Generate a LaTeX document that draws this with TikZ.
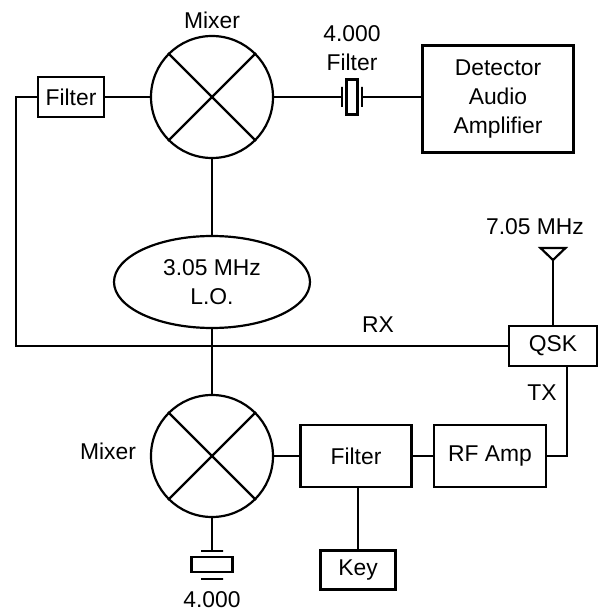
\documentclass[tikz,border=0pt]{standalone}
\usepackage{fontspec}
\setmainfont{Liberation Sans}
\usetikzlibrary{shapes,positioning,calc}

\begin{document}
\begin{tikzpicture}[line width=1.25pt, font=\fontsize{13}{16.5}\selectfont]
  \tikzstyle{blk}=[rectangle, draw, align=center, inner sep=0pt]
  \tikzstyle{mix}=[circle, draw, minimum size=2.44cm, inner sep=0pt]
  \tikzstyle{plate}=[draw, inner sep=0pt, minimum width=0pt, minimum height=0pt]
  \tikzstyle{lbl}=[align=center, inner sep=0pt]
  \useasboundingbox (0,0) rectangle (12.02,12.2);

  % receive side
  \node[mix] (mixA) at (4.24,10.26) {};
  \node[lbl] (mixAl) at (4.24,11.8) {Mixer};
  \node[blk, minimum width=1.32cm, minimum height=0.8cm] (filtA) at (1.42,10.26) {Filter};
  \node[blk, minimum width=0.22cm, minimum height=0.7cm] (xtalA) at (7.04,10.26) {};
  \node[plate, minimum height=0.4cm] (plA1) at (6.84,10.26) {};
  \node[plate, minimum height=0.4cm] (plA2) at (7.24,10.26) {};
  \node[lbl] (xtalAl) at (7.04,11.24) {4.000\\Filter};
  \node[blk, minimum width=3.02cm, minimum height=2.14cm] (det) at (9.96,10.22) {Detector\\Audio\\Amplifier};

  % local oscillator
  \node[ellipse, draw, minimum width=3.92cm, minimum height=1.84cm, align=center, inner sep=0pt] (lo) at (4.24,6.56) {3.05 MHz\\L.O.};

  % T/R switch and antenna
  \node[blk, minimum width=1.76cm, minimum height=0.8cm] (qsk) at (11.06,5.28) {QSK};
  \coordinate (ant) at (11.06,7.0);
  \draw (ant) -- ++(-0.25,0.24) -- ++(0.5,0) -- cycle;
  \node[lbl] (antl) at (10.7,7.66) {7.05 MHz};
  \node[lbl] (rxl) at (7.56,5.7) {RX};
  \node[lbl] (txl) at (10.84,4.34) {TX};

  % transmit side
  \node[mix] (mixB) at (4.24,3.08) {};
  \node[lbl] (mixBl) at (2.16,3.18) {Mixer};
  \node[blk, minimum width=2.22cm, minimum height=1.24cm] (filtB) at (7.12,3.08) {Filter};
  \node[blk, minimum width=2.24cm, minimum height=1.24cm] (rfamp) at (9.8,3.08) {RF Amp};
  \node[blk, minimum width=1.5cm, minimum height=0.78cm] (key) at (7.16,0.8) {Key};
  \node[plate, minimum width=0.44cm] (plB1) at (4.24,1.18) {};
  \node[blk, minimum width=0.82cm, minimum height=0.3cm] (xtalB) at (4.24,0.91) {};
  \node[plate, minimum width=0.44cm] (plB2) at (4.24,0.62) {};
  \node[lbl] (xtalBl) at (4.24,0.2) {4.000};

  % mixer crosses
  \draw (mixA.45) -- (mixA.225) (mixA.135) -- (mixA.-45);
  \draw (mixB.45) -- (mixB.225) (mixB.135) -- (mixB.-45);

  % wiring
  \coordinate (rxc) at (0.32,5.28);
  \coordinate (txc) at (11.34,3.08);
  \draw (filtA) -- (mixA);
  \draw (mixA) -- (plA1);
  \draw (plA2) -- (det.west |- plA2);
  \draw (mixA) -- (lo);
  \draw (lo) -- (mixB);
  \draw (filtA.west) -| (rxc) -- (qsk.west);
  \draw (qsk.north -| ant) -- (ant);
  \draw (qsk.south -| txc) -- (txc) -- (rfamp.east);
  \draw (mixB) -- (filtB);
  \draw (filtB) -- (rfamp);
  \draw (filtB.south -| key) -- (key);
  \draw (mixB) -- (plB1);
\end{tikzpicture}
\end{document}
